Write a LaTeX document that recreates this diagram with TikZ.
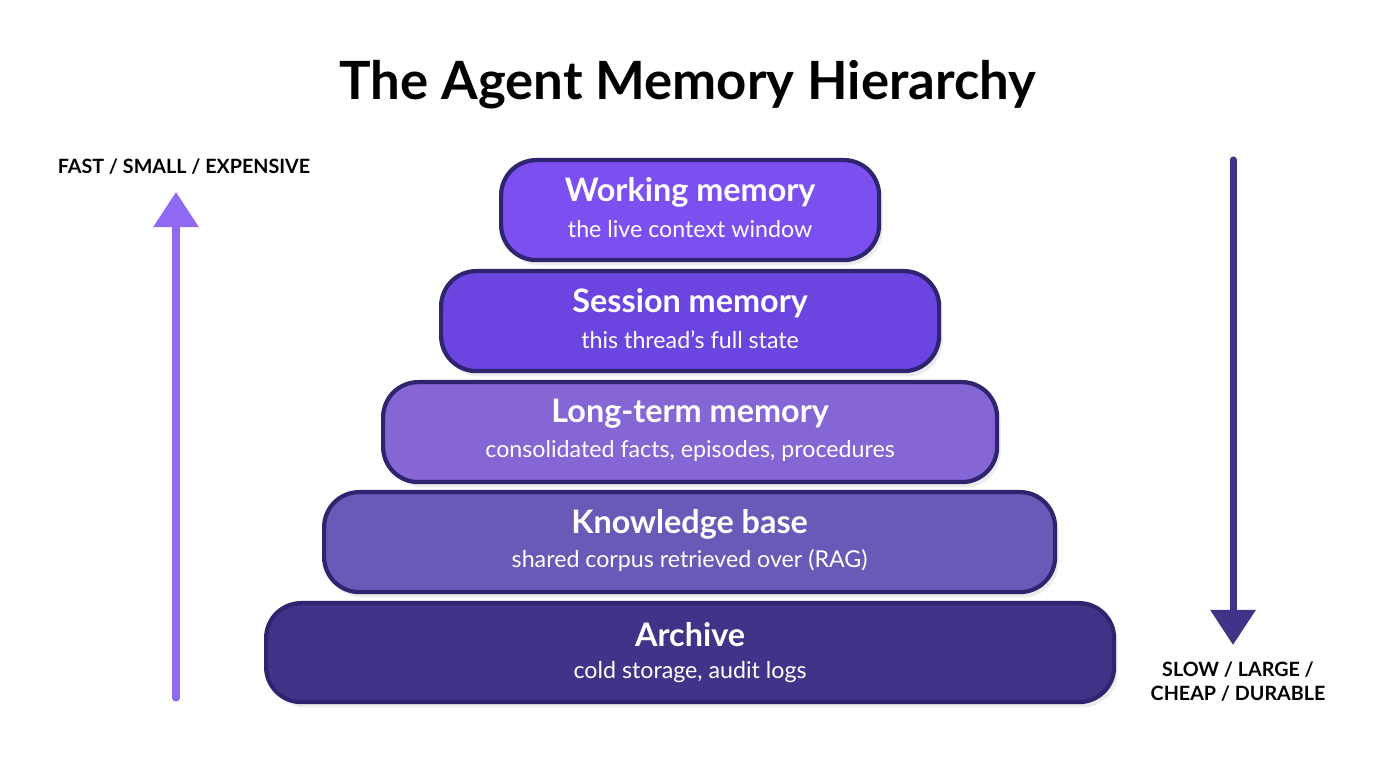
\documentclass[tikz,border=0pt]{standalone}
\usepackage{fontspec}
\setmainfont{Lato}
\usetikzlibrary{positioning,arrows.meta,shadows}
\definecolor{tierA}{HTML}{7B4FF0}
\definecolor{tierB}{HTML}{6A45E0}
\definecolor{tierC}{HTML}{8466D4}
\definecolor{tierD}{HTML}{6A5AB8}
\definecolor{tierE}{HTML}{3F3488}
\definecolor{edgeC}{HTML}{2E2470}
\tikzset{
  tier/.style={draw=edgeC, line width=1.2pt, rounded corners=10pt, anchor=north west,
    inner sep=0pt, drop shadow={opacity=0.15, shadow xshift=1pt, shadow yshift=-1.5pt}},
  tiertitle/.style={text=white, font=\bfseries\fontsize{9.2}{11}\selectfont},
  tiersub/.style={text=white, font=\fontsize{6.6}{8}\selectfont},
  sidelabel/.style={font=\bfseries\fontsize{5.6}{6.8}\selectfont, align=center},
  bigarrow/.style={line width=2pt, line cap=round, -{Triangle[length=10pt,width=12.5pt]}}
}
\begin{document}
\begin{tikzpicture}[x=0.01cm,y=-0.01cm]
  \useasboundingbox[fill=white] (0,0) rectangle (1376,768);

  % Title
  \node (title) at (688,85) {\bfseries\fontsize{15}{18}\selectfont The Agent Memory Hierarchy};

  % Tiers
  \node[tier, fill=tierA, minimum width=378*0.01cm, minimum height=100*0.01cm] (work) at (499,158) {};
  \node[tier, fill=tierB, minimum width=498*0.01cm, minimum height=100*0.01cm] (sess) at (439,269) {};
  \node[tier, fill=tierC, minimum width=614*0.01cm, minimum height=100*0.01cm] (long) at (381,380) {};
  \node[tier, fill=tierD, minimum width=731*0.01cm, minimum height=100*0.01cm] (know) at (322,490) {};
  \node[tier, fill=tierE, minimum width=848*0.01cm, minimum height=99*0.01cm] (arch) at (264,601) {};

  \foreach \n/\t/\s in {work/Working memory/the live context window,
                        sess/Session memory/this thread's full state,
                        long/Long-term memory/{consolidated facts, episodes, procedures},
                        know/Knowledge base/shared corpus retrieved over (RAG),
                        arch/Archive/{cold storage, audit logs}} {
    \node[tiertitle] at ([yshift=-34*0.01cm]\n.north) {\t};
    \node[tiersub] at ([yshift=-71*0.01cm]\n.north) {\s};
  }

  % Side arrows
  \coordinate (upfoot) at (176,698);
  \coordinate (uptip) at (176,192);
  \draw[bigarrow, draw=tierA!85!white] (upfoot) -- (uptip);
  \node[sidelabel] (fast) at (184,167) {FAST / SMALL / EXPENSIVE};

  \coordinate (downtop) at (1233,160);
  \coordinate (downtip) at (1233,645);
  \draw[bigarrow, draw=tierE] (downtop) -- (downtip);
  \node[sidelabel] (slow) at (1238,682) {SLOW / LARGE /\\CHEAP / DURABLE};
\end{tikzpicture}
\end{document}
